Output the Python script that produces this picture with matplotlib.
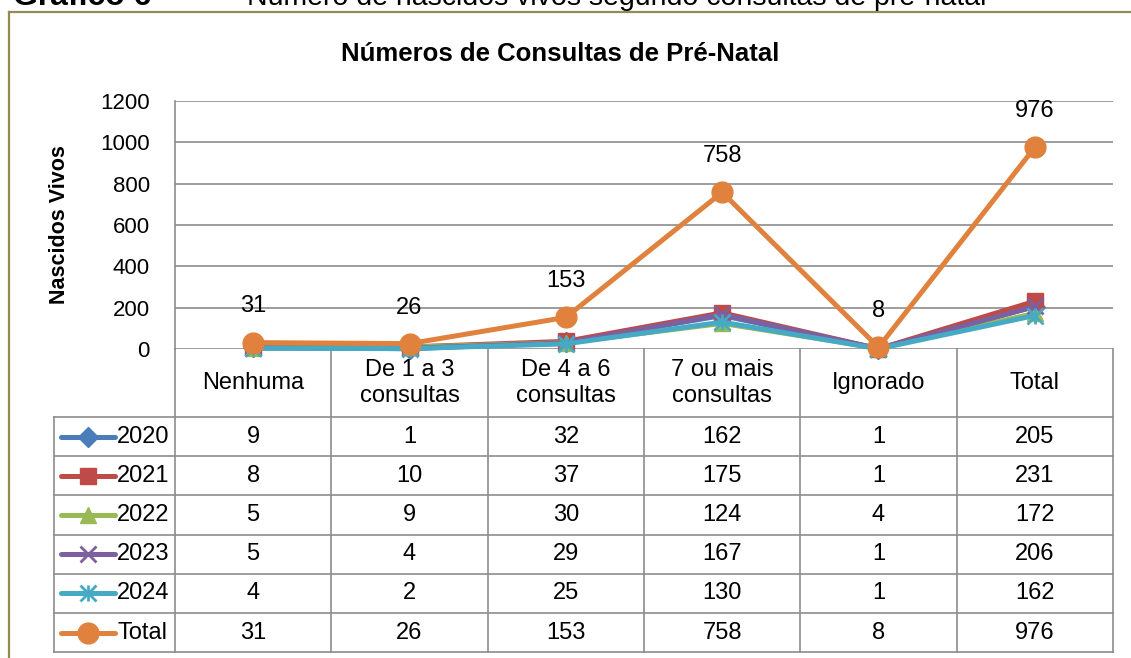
import matplotlib
matplotlib.use("Agg")
import matplotlib.pyplot as plt
from matplotlib import transforms

plt.rcParams["font.family"] = ["Liberation Sans Narrow", "Liberation Sans", "DejaVu Sans"]

CATEGORIES = ["Nenhuma", "De 1 a 3\nconsultas", "De 4 a 6\nconsultas",
              "7 ou mais\nconsultas", "Ignorado", "Total"]
SERIES = ["2020", "2021", "2022", "2023", "2024", "Total"]
V2020 = [9, 1, 32, 162, 1, 205]
V2021 = [8, 10, 37, 175, 1, 231]
V2022 = [5, 9, 30, 124, 4, 172]
V2023 = [5, 4, 29, 167, 1, 206]
V2024 = [4, 2, 25, 130, 1, 162]
VTOTAL = [31, 26, 153, 758, 8, 976]
YTICKS = [0, 200, 400, 600, 800, 1000, 1200]

COLORS = ["#4A7EBB", "#BE4B48", "#98B954", "#7D60A0", "#46AAC5", "#E0823D"]
MARKERS = ["D", "s", "^", "x", "x", "o"]
MSIZES = [10, 12, 12, 12, 12, 15]

W, H = 1131, 658
GRID = "#8C8C8C"
FS = 17

fig = plt.figure(figsize=(W / 100, H / 100), dpi=100)

# outer chart border (left and top only are visible)
fig.add_artist(plt.Line2D([9 / W, 9 / W], [0, 1 - 12 / H], transform=fig.transFigure,
                          color="#948A54", lw=1.6))
fig.add_artist(plt.Line2D([9 / W, 1], [1 - 12 / H, 1 - 12 / H], transform=fig.transFigure,
                          color="#948A54", lw=1.6))

# caption above the chart (clipped by the page in the original)
cap_font = ["Liberation Sans", "DejaVu Sans"]
fig.text(13 / W, 1 - 5 / H, "Gráfico 6", fontsize=23, fontweight="bold",
         family=cap_font, va="baseline")
fig.text(175 / W, 1 - 5 / H, "–", fontsize=20, family=cap_font, va="baseline")
fig.text(247 / W, 1 - 5 / H, "Número de nascidos vivos segundo consultas de pré-natal",
         fontsize=20.5, family=cap_font, va="baseline")

fig.text(560 / W, 1 - 54 / H, "Números de Consultas de Pré-Natal", fontsize=18.5,
         fontweight="bold", ha="center", va="center")

ax = fig.add_axes([175 / W, 1 - 349 / H, (1113 - 175) / W, (349 - 101) / H])
series = [V2020, V2021, V2022, V2023, V2024, VTOTAL]
x = list(range(len(CATEGORIES)))
for vals, c, m, ms in zip(series, COLORS, MARKERS, MSIZES):
    ax.plot(x, vals, color=c, lw=3.6, marker=m, ms=ms, mew=2 if m == "x" else 1,
            clip_on=False, zorder=3)
    if c == COLORS[4]:
        ax.plot(x, vals, color=c, lw=0, marker="|", ms=ms, mew=2, clip_on=False, zorder=3)

for i, v in enumerate(VTOTAL):
    ax.annotate(str(v), (i, v), xytext=(0, 26), textcoords="offset points",
                ha="center", va="center", fontsize=FS)

ax.set_xlim(-0.5, len(CATEGORIES) - 0.5)
ax.set_ylim(0, 1200)
ax.set_yticks(YTICKS)
ax.set_xticks([])
ax.tick_params(axis="y", length=0, pad=18, labelsize=16)
ax.grid(axis="y", color=GRID, lw=1.2)
ax.set_axisbelow(True)
for s in ["top", "right", "bottom"]:
    ax.spines[s].set_visible(False)
ax.spines["left"].set_color(GRID)
ax.spines["left"].set_linewidth(1.2)
ax.set_ylabel("Nascidos Vivos", fontsize=15.5, fontweight="bold")
ax.yaxis.set_label_coords(-(175 - 70) / (1113 - 175), (349 - 225) / 248)

# data table below the plot
blend = transforms.blended_transform_factory(ax.transData, ax.transAxes)
col_w = (1113 - 175) / len(CATEGORIES)
def xd(px):
    return -0.5 + (px - 175) / col_w
def ya(py):
    return (349 - py) / 248

header_bot = 417
row_h = 39.2
n_rows = len(SERIES)
table_bot = header_bot + row_h * n_rows
leg_left = xd(54)

line_kw = dict(color=GRID, lw=1.2, transform=blend, clip_on=False)
for k in range(len(CATEGORIES) + 1):
    ax.plot([k - 0.5, k - 0.5], [ya(349), ya(table_bot)], **line_kw)
ax.plot([leg_left, leg_left], [ya(header_bot), ya(table_bot)], **line_kw)
for i in range(n_rows + 1):
    yy = ya(header_bot + row_h * i)
    ax.plot([leg_left, len(CATEGORIES) - 0.5], [yy, yy], **line_kw)

for k, cat in enumerate(CATEGORIES):
    ax.text(k, ya((349 + header_bot) / 2), cat, transform=blend, ha="center",
            va="center", fontsize=FS, linespacing=1.2)

for i, (name, vals, c, m, ms) in enumerate(zip(SERIES, series, COLORS, MARKERS, MSIZES)):
    yc = ya(header_bot + row_h * (i + 0.5))
    lx = [xd(61), xd(88), xd(115)]
    ax.plot(lx, [yc] * 3, color=c, lw=3.6, marker=m, ms=ms, mew=2 if m == "x" else 1,
            markevery=[1], transform=blend, clip_on=False, solid_capstyle="round")
    if c == COLORS[4]:
        ax.plot([lx[1]], [yc], color=c, lw=0, marker="|", ms=ms, mew=2,
                transform=blend, clip_on=False)
    ax.text(xd(117), yc, name, transform=blend, ha="left", va="center", fontsize=FS)
    for k, v in enumerate(vals):
        ax.text(k, yc, str(v), transform=blend, ha="center", va="center", fontsize=FS)

fig.savefig("out.png", dpi=100)
